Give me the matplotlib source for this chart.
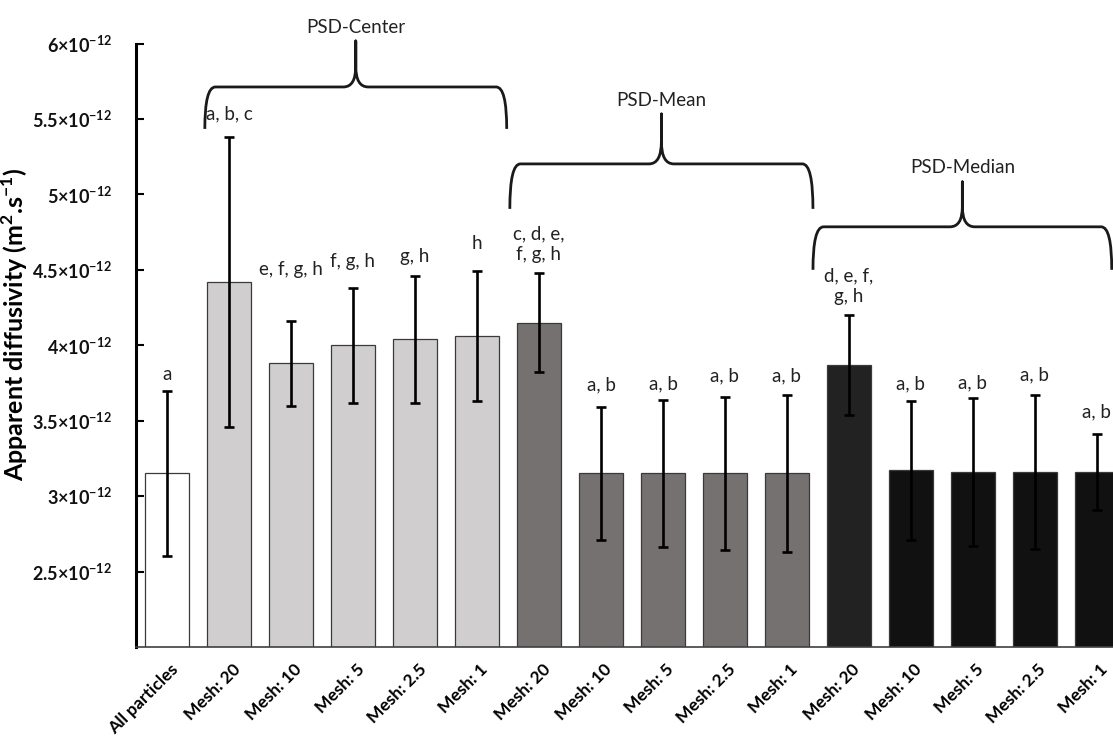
"""
Apparent diffusivity by particle subset (PSD-Center / Mean / Median)
"""
import numpy as np
import matplotlib
matplotlib.use("Agg")
import matplotlib.pyplot as plt
import matplotlib.transforms as mtransforms
from matplotlib.path import Path
from matplotlib.patches import PathPatch

plt.rcParams['font.family'] = ['Lato', 'DejaVu Sans']
plt.rcParams['mathtext.fontset'] = 'custom'
plt.rcParams['mathtext.rm'] = 'Lato'
plt.rcParams['mathtext.bf'] = 'Lato:bold'

# data (x 1e-12 m2/s)
categories = ["All particles",
              "Mesh: 20", "Mesh: 10", "Mesh: 5", "Mesh: 2.5", "Mesh: 1",
              "Mesh: 20", "Mesh: 10", "Mesh: 5", "Mesh: 2.5", "Mesh: 1",
              "Mesh: 20", "Mesh: 10", "Mesh: 5", "Mesh: 2.5", "Mesh: 1"]
diffusivity = [3.15,
               4.42, 3.88, 4.00, 4.04, 4.06,
               4.15, 3.15, 3.15, 3.15, 3.15,
               3.87, 3.17, 3.16, 3.16, 3.16]
sd = [0.55,
      0.96, 0.28, 0.38, 0.42, 0.43,
      0.33, 0.44, 0.49, 0.51, 0.52,
      0.33, 0.46, 0.49, 0.51, 0.25]
letters = ["a",
           "a, b, c", "e, f, g, h", "f, g, h", "g, h", "h",
           "c, d, e,\nf, g, h", "a, b", "a, b", "a, b", "a, b",
           "d, e, f,\ng, h", "a, b", "a, b", "a, b", "a, b"]
groups = ["PSD-Center", "PSD-Mean", "PSD-Median"]
ytick_vals = [2.5, 3.0, 3.5, 4.0, 4.5, 5.0, 5.5, 6.0]
ytick_text = ["2.5", "3", "3.5", "4", "4.5", "5", "5.5", "6"]

# styling / layout
colors = (["#FFFFFF"] + ["#D0CECE"] * 5 + ["#767171"] * 5
          + ["#222222"] + ["#111111"] * 4)
letter_gap = [8, 15, 43, 18, 11, 19, 10, 14, 7, 12, 11, 10, 9, 7, 12, 14]  # px
# brace: bar-line y, end y, peak y (in 1e-12 units), x span
brace_y = [(5.712, 5.434, 6.017), (5.202, 4.904, 5.533), (4.785, 4.500, 5.083)]
brace_x = [(0.61, 5.48), (5.53, 10.42), (10.42, 15.24)]

scale = 1e-12
vals = np.array(diffusivity) * scale
errs = np.array(sd) * scale
x = np.arange(len(categories))

fig = plt.figure(figsize=(11.13, 7.49), dpi=100)
ax = fig.add_axes([0.1222, 0.1362, 0.8778, 0.8057])

ax.bar(x, vals, width=0.71, color=colors, edgecolor="#3a3a3a", linewidth=0.9,
       zorder=2)
ax.errorbar(x, vals, yerr=errs, fmt="none", ecolor="black", elinewidth=1.9,
            capsize=3.5, capthick=1.9, zorder=3)

for xi, v, e, lab, gap in zip(x, vals, errs, letters, letter_gap):
    ax.annotate(lab, (xi, v + e), xytext=(0, gap * 0.72),
                textcoords="offset points", ha="center", va="bottom",
                fontsize=13.5, color="#222222", linespacing=1.25,
                annotation_clip=False)


def brace(x0, x1, ybar, yend, ypeak):
    xm = (x0 + x1) / 2
    dx = 0.17
    dm = 0.2
    h = (ypeak - ybar) * 0.45
    verts = [(x0, yend), (x0, ybar), (x0 + dx, ybar),
             (xm - dm, ybar), (xm, ybar), (xm, ybar + h),
             (xm, ypeak), (xm, ybar + h), (xm, ybar), (xm + dm, ybar),
             (x1 - dx, ybar), (x1, ybar), (x1, yend)]
    codes = [Path.MOVETO, Path.CURVE3, Path.CURVE3,
             Path.LINETO, Path.CURVE3, Path.CURVE3,
             Path.LINETO, Path.LINETO, Path.CURVE3, Path.CURVE3,
             Path.LINETO, Path.CURVE3, Path.CURVE3]
    return Path([(a, b * scale) for a, b in verts], codes)


for name, (x0, x1), (yb, ye, yp) in zip(groups, brace_x, brace_y):
    p = PathPatch(brace(x0, x1, yb, ye, yp), facecolor="none",
                  edgecolor="#1a1a1a", linewidth=2.0, clip_on=False,
                  joinstyle="round", capstyle="butt")
    ax.add_patch(p)
    ax.annotate(name, ((x0 + x1) / 2, yp * scale), xytext=(0, 10),
                textcoords="offset points", ha="center", va="center",
                fontsize=13.5, color="#222222", annotation_clip=False)

ax.set_xlim(-0.5, 15.26)
ax.set_ylim(2.0 * scale, 6.0 * scale)
ax.set_yticks(np.array(ytick_vals) * scale)
ax.set_yticklabels([t + r"×10$^{\mathbf{-12}}$" for t in ytick_text],
                   fontsize=13, fontweight="bold", color="#111111")
ax.set_xticks(x)
ax.set_xticklabels(categories, rotation=45, ha="right",
                   rotation_mode="anchor", fontsize=12.5, fontweight="bold")
ax.tick_params(axis="x", length=0, pad=10)
ax.tick_params(axis="y", direction="in", length=6, width=1.5, pad=17)
shift = mtransforms.ScaledTranslation(3 / 100, 0, fig.dpi_scale_trans)
for lbl in ax.get_xticklabels():
    lbl.set_transform(lbl.get_transform() + shift)

for s in ["top", "right"]:
    ax.spines[s].set_visible(False)
ax.spines["left"].set_linewidth(2.2)
ax.spines["left"].set_color("black")
ax.spines["bottom"].set_linewidth(1.2)
ax.spines["bottom"].set_color("#404040")

ax.set_ylabel(r"Apparent diffusivity (m$^{\mathbf{2}}$.s$^{\mathbf{-1}}$)",
              fontsize=18, fontweight="bold")
ax.yaxis.set_label_coords(-0.108, 0.535)

fig.savefig("out.png", dpi=100)
